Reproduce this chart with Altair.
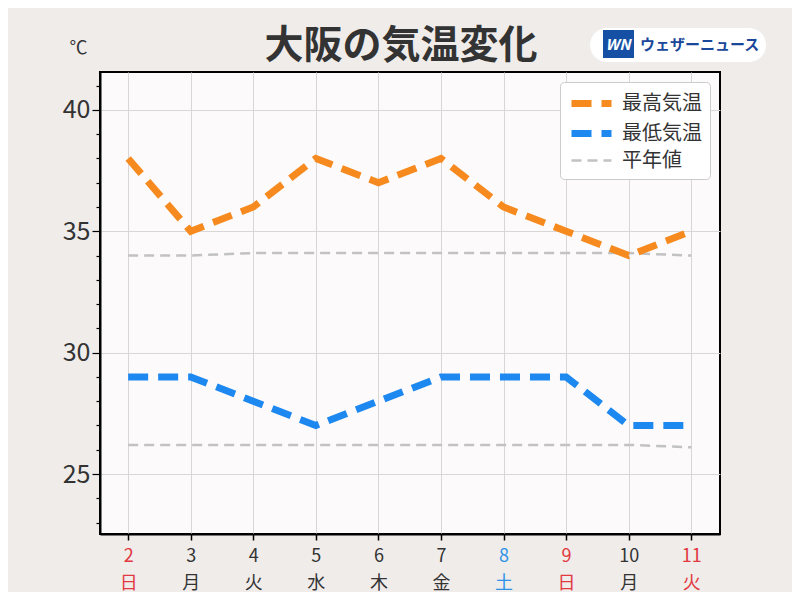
import altair as alt
import pandas as pd

days = [2, 3, 4, 5, 6, 7, 8, 9, 10, 11]
weekdays = ["日", "月", "火", "水", "木", "金", "土", "日", "月", "火"]
high = [38, 35, 36, 38, 37, 38, 36, 35, 34, 35]
low = [29, 29, 28, 27, 28, 29, 29, 29, 27, 27]
high_normal = [34.0, 34.0, 34.1, 34.1, 34.1, 34.1, 34.1, 34.1, 34.1, 34.0]
low_normal = [26.2, 26.2, 26.2, 26.2, 26.2, 26.2, 26.2, 26.2, 26.2, 26.1]
red_days = [2, 9, 11]
blue_days = [8]
series_names = ["最高気温", "最低気温", "平年値"]

FONT = "Noto Sans CJK JP"

rows = []
for d, h, l, hn, ln in zip(days, high, low, high_normal, low_normal):
    rows.append({"day": d, "temp": h, "series": "最高気温", "kind": "high"})
    rows.append({"day": d, "temp": l, "series": "最低気温", "kind": "low"})
    rows.append({"day": d, "temp": hn, "series": "平年値", "kind": "high_n"})
    rows.append({"day": d, "temp": ln, "series": "平年値", "kind": "low_n"})
df = pd.DataFrame(rows)

wd_expr = "[" + ",".join("'%s'" % w for w in weekdays) + "]"
red_test = " || ".join("datum.value == %d" % d for d in red_days)
blue_test = " || ".join("datum.value == %d" % d for d in blue_days)

x_enc = alt.X(
    "day:Q",
    scale=alt.Scale(domain=[1.55, 11.46], nice=False, zero=False),
    axis=alt.Axis(
        values=days,
        title=None,
        labelExpr="[datum.label, %s[datum.value - 2]]" % wd_expr,
        labelFontSize=18,
        labelFont=FONT,
        labelLineHeight=27,
        labelPadding=7,
        labelColor=alt.ExprRef(
            "(%s) ? '#E2383F' : ((%s) ? '#2E93E8' : '#333333')" % (red_test, blue_test)
        ),
        tickColor="#000000",
        tickSize=6,
        tickWidth=1.5,
        domainColor="#000000",
        domainWidth=2,
        grid=True,
        gridColor="#D9D6D6",
        gridWidth=1,
    ),
)

y_enc = alt.Y(
    "temp:Q",
    scale=alt.Scale(domain=[22.53, 41.56], nice=False, zero=False),
    axis=alt.Axis(
        values=list(range(23, 42)),
        labelExpr="datum.value % 5 === 0 ? datum.label : ''",
        labelFontSize=25,
        labelFont=FONT,
        labelColor="#333333",
        labelPadding=2,
        tickColor="#000000",
        tickSize=alt.ExprRef("datum.value % 5 === 0 ? 8 : 4"),
        tickWidth=1.2,
        domainColor="#000000",
        domainWidth=2,
        grid=True,
        gridColor="#D9D6D6",
        gridOpacity=alt.ExprRef("datum.value % 5 === 0 ? 1 : 0"),
        title="℃",
        titleAngle=0,
        titleFont=FONT,
        titleFontSize=18,
        titleFontWeight="normal",
        titleColor="#333333",
        titleAlign="center",
        titleBaseline="middle",
        titleX=-22,
        titleY=-24,
    ),
)

legend = alt.Legend(
    title=None,
    orient="top-right",
    offset=10,
    symbolType="M-2,0H2",
    symbolSize=400,
    symbolOffset=10,
    labelFont=FONT,
    labelFontSize=20,
    labelColor="#333333",
    rowPadding=1,
    padding=8,
    fillColor="#FFFFFF",
    strokeColor="#CCCCCC",
    cornerRadius=4,
    labelOffset=17,
)

color = alt.Color(
    "series:N",
    scale=alt.Scale(domain=series_names, range=["#F68A1E", "#1D88F0", "#C2C2C2"]),
    legend=legend,
)
dash = alt.StrokeDash(
    "series:N",
    scale=alt.Scale(domain=series_names, range=[[20, 10], [20, 10], [10, 6]]),
    legend=legend,
)
width = alt.StrokeWidth(
    "series:N",
    scale=alt.Scale(type="ordinal", domain=series_names, range=[7, 7, 2.5]),
    legend=legend,
)

base = alt.Chart(df)

normals = base.transform_filter(alt.datum.series == "平年値").mark_line().encode(
    x=x_enc, y=y_enc, color=color, strokeDash=dash, strokeWidth=width, detail="kind:N"
)
mains = base.transform_filter(alt.datum.series != "平年値").mark_line().encode(
    x=x_enc, y=y_enc, color=color, strokeDash=dash, strokeWidth=width, detail="kind:N"
)

logo_df = pd.DataFrame({"name": ["ウェザーニュース"], "mark": ["WN"]})
logo_bg = alt.Chart(logo_df).mark_rect(
    fill="#FFFFFF", cornerRadius=17, clip=False
).encode(x=alt.value(490), x2=alt.value(666), y=alt.value(-44), y2=alt.value(-10))
logo_box = alt.Chart(logo_df).mark_rect(fill="#1550A5", clip=False).encode(
    x=alt.value(503), x2=alt.value(534), y=alt.value(-42), y2=alt.value(-14)
)
logo_wn = alt.Chart(logo_df).mark_text(
    font=FONT, fontSize=15, fontWeight="bold", fontStyle="italic", color="#FFFFFF",
    align="center", baseline="middle", clip=False
).encode(text="mark:N", x=alt.value(518), y=alt.value(-27))
logo_txt = alt.Chart(logo_df).mark_text(
    font=FONT, fontSize=15, fontWeight="bold", color="#1A479A",
    align="left", baseline="middle", clip=False
).encode(text="name:N", x=alt.value(540), y=alt.value(-27))

chart = (
    alt.layer(normals, mains, logo_bg, logo_box, logo_wn, logo_txt)
    .properties(
        width=620,
        height=462,
        autosize=alt.AutoSizeParams(type="none"),
        padding={"left": 92, "top": 64, "right": 72, "bottom": 58},
        background="#EFECEA",
        title=alt.TitleParams(
            "大阪の気温変化",
            font=FONT,
            fontSize=39,
            fontWeight="bold",
            color="#333333",
            anchor="middle",
            dx=-9,
            dy=50,
            offset=12,
        ),
    )
    .configure_view(fill="#FCFAFB", stroke="#000000", strokeWidth=2)
)

chart.save("out.html", embed_options={"renderer": "svg", "actions": False})
